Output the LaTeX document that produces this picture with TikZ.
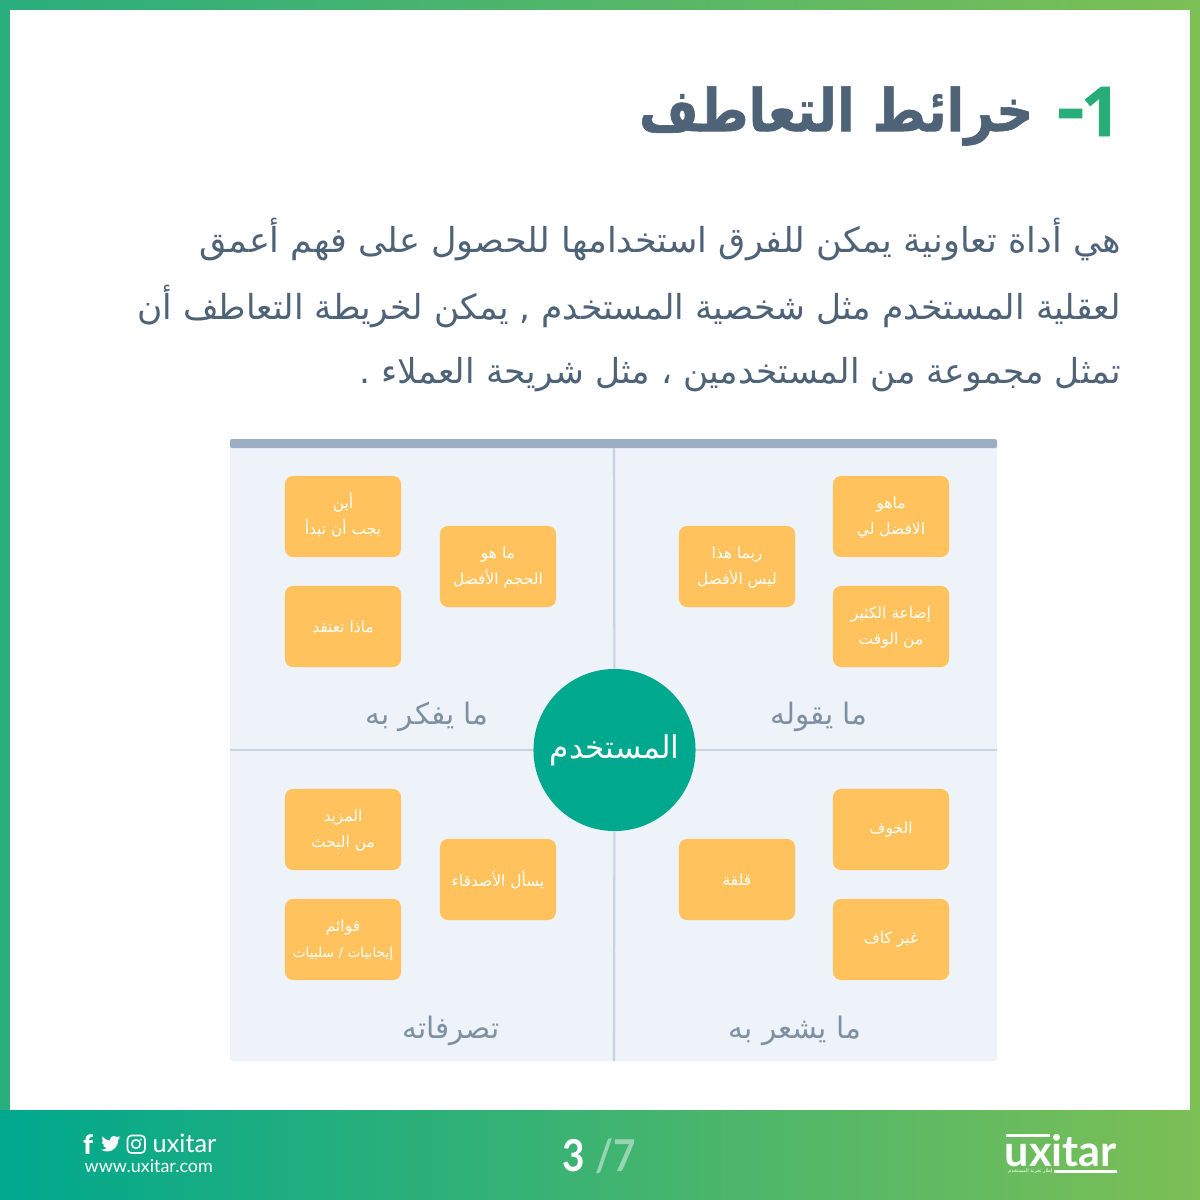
\documentclass[tikz,border=0pt]{standalone}
\usepackage{fontspec}
\setmainfont{Lato}
\newfontfamily\arabicfont[Script=Arabic]{DejaVu Sans}
\newfontface\headface[Script=Arabic, FakeBold=1]{DejaVu Sans Bold}
\newfontface\heavyface[FakeBold=1.5]{Lato Bold}
\newfontface\numface[FakeBold=1]{Open Sans Bold}
\TeXXeTstate=1
\usetikzlibrary{calc}
\definecolor{UXteal}{RGB}{0,168,142}
\definecolor{UXgreen}{RGB}{124,191,85}
\definecolor{UXedge}{RGB}{42,174,125}
\definecolor{UXnum}{RGB}{39,174,120}
\definecolor{UXtitle}{RGB}{78,99,120}
\definecolor{UXbar}{RGB}{155,174,194}
\definecolor{UXpanel}{RGB}{238,242,249}
\definecolor{UXline}{RGB}{197,210,224}
\definecolor{UXcard}{RGB}{255,194,92}
\definecolor{UXlabel}{RGB}{127,144,163}
\newcommand{\artext}[1]{\arabicfont\beginR #1\endR}
\newcommand{\card}[3]{\node[cardbox] (#1) at (#2) {#3};}
\newcommand{\cardtwo}[4]{\node[cardbox] (#1) at (#2) {\raisebox{.04cm}{\begin{tabular}{@{}c@{}}#3\\#4\end{tabular}}};}
\tikzset{cardbox/.style={rectangle, rounded corners=.08cm, minimum width=1.16cm, minimum height=.81cm, inner sep=0pt, fill=UXcard, text=white, font=\fontsize{4.4}{7.4}\selectfont\arabicfont}}
\tikzset{bodyline/.style={anchor=east, inner sep=0pt, text=UXtitle, font=\fontsize{9.8}{10}\selectfont}}
\tikzset{quadlabel/.style={inner sep=0pt, text=UXlabel, font=\fontsize{8.4}{10}\selectfont}}
\tikzset{quadrule/.style={color=UXline, line width=.6pt}}
\begin{document}
\begin{tikzpicture}[x=.01cm, y=-.01cm]
  \useasboundingbox (0,0) rectangle (1200,1200);

  % --- frame and footer ---
  \shade[left color=UXedge, right color=UXgreen] (0,0) rectangle (1200,1110);
  \fill[white] (10,10) rectangle (1190,1110);
  \shade[left color=UXteal, right color=UXgreen] (0,1110) rectangle (1200,1200);

  % --- heading ---
  \node[anchor=base east, inner sep=0pt, text=UXnum, font=\fontsize{19.5}{20}\numface] (num) at (1121,136) {\makebox[.2cm][r]{1}};
  \node[anchor=base east, inner sep=0pt, text=UXnum, font=\fontsize{24}{20}\heavyface] (dash) at (1083.5,139) {\makebox[.24cm][c]{-}};
  \node[anchor=east, inner sep=0pt, text=UXtitle, font=\fontsize{14.6}{20}\headface] (title) at (1034,116) {\scalebox{1}[1.15]{\beginR خرائط التعاطف\endR}};

  % --- body text ---
  \node[bodyline] (bodya) at (1121.5,240) {\scalebox{1.018}[1]{\artext{هي أداة تعاونية يمكن للفرق استخدامها للحصول على فهم أعمق}}};
  \node[bodyline] (bodyb) at (1121.5,306) {\artext{لعقلية المستخدم مثل شخصية المستخدم , يمكن لخريطة التعاطف أن}};
  \node[bodyline] (bodyc) at (1121.5,375) {\artext{تمثل مجموعة من المستخدمين ، مثل شريحة العملاء .}};

  % --- map panel ---
  \fill[UXpanel, rounded corners=.03cm] (230,440) rectangle (997,1061);
  \fill[UXbar, rounded corners=.02cm] (230,439) rectangle (997,448);

  \coordinate (top) at (614,448);
  \coordinate (bottom) at (614,1061);
  \coordinate (left) at (230,750);
  \coordinate (right) at (997,750);
  \node[circle, minimum size=1.62cm, inner sep=0pt, fill=UXteal, text=white, font=\fontsize{8.9}{10}\selectfont] (user) at (614.5,750) {\raisebox{-.03cm}{\artext{المستخدم}}};
  \draw[quadrule] (top) -- (user);
  \draw[quadrule] (bottom) -- (user);
  \draw[quadrule] (left) -- (user);
  \draw[quadrule] (right) -- (user);

  % --- quadrant titles ---
  \node[quadlabel] (thinks) at (427,717) {\artext{ما يفكر به}};
  \node[quadlabel] (says) at (819,717) {\artext{ما يقوله}};
  \node[quadlabel] (does) at (451,1031) {\artext{تصرفاته}};
  \node[quadlabel] (feels) at (795,1031) {\artext{ما يشعر به}};

  % --- top left ---
  \cardtwo{where}{343,516.5}{\beginR أين\endR}{\beginR يجب أن تبدأ\endR}
  \cardtwo{size}{498,566.5}{\beginR ما هو\endR}{\beginR الحجم الأفضل\endR}
  \card{think}{343,626.5}{\beginR ماذا تعتقد\endR}

  % --- top right ---
  \cardtwo{best}{891,516.5}{\beginR ماهو\endR}{\beginR الافضل لي\endR}
  \cardtwo{maybe}{737,566.5}{\beginR ربما هذا\endR}{\beginR ليس الأفضل\endR}
  \cardtwo{waste}{891,626.5}{\beginR إضاعة الكثير\endR}{\beginR من الوقت\endR}

  % --- bottom left ---
  \cardtwo{more}{343,829.5}{\beginR المزيد\endR}{\beginR من البحث\endR}
  \card{friends}{498,879.5}{\beginR يسأل الأصدقاء\endR}
  \cardtwo{lists}{343,939.5}{\beginR قوائم\endR}{\fontsize{3.9}{7.4}\selectfont\beginR إيجابيات / سلبيات\endR}

  % --- bottom right ---
  \card{fear}{891,829.5}{\beginR الخوف\endR}
  \card{worry}{737,879.5}{\beginR قلقة\endR}
  \card{short}{891,939.5}{\beginR غير كاف\endR}

  % --- footer left ---
  \node[inner sep=0pt, text=white, font=\fontsize{7.4}{8}\heavyface] (fb) at (88,1144) {f};
  \begin{scope}[shift={(101,1134)}, x=.008cm, y=-.008cm]
    \fill[white] (23.95,4.57) -- (21.13,5.35) .. controls (22.1,4.8) and (22.9,3.8) .. (23.29,2.62)
      .. controls (22.34,3.18) and (21.28,3.58) .. (20.16,3.8) .. controls (19.2,2.8) and (17.6,2.3) .. (16.1,2.4)
      .. controls (13.4,2.5) and (11.2,4.7) .. (11.2,7.3) .. controls (11.2,7.65) and (11.3,8) .. (11.78,8.28)
      .. controls (7.69,8.1) and (4.07,6.13) .. (1.64,3.16) .. controls (1.2,3.9) and (.97,4.75) .. (.97,5.64)
      .. controls (.97,7.35) and (1.84,8.85) .. (3.16,9.73) .. controls (2.35,9.7) and (1.6,9.5) .. (.93,9.12)
      .. controls (.93,11.55) and (2.6,13.55) .. (4.88,14) .. controls (4.15,14.2) and (3.4,14.2) .. (2.67,14.09)
      .. controls (3.3,16.05) and (5.1,17.45) .. (7.27,17.5) .. controls (5.6,18.8) and (3.5,19.6) .. (1.17,19.6)
      .. controls (.78,19.6) and (.39,19.58) .. (0,19.54) .. controls (2.18,20.95) and (4.77,21.75) .. (7.56,21.75)
      .. controls (16.6,21.75) and (21.55,14.25) .. (21.55,7.77) .. controls (21.55,7.56) and (21.55,7.35) .. (21.54,7.14)
      .. controls (22.5,6.45) and (23.35,5.58) .. (24,4.59) -- cycle;
  \end{scope}
  \draw[white, line width=.45pt, rounded corners=.04cm] (127.5,1135.5) rectangle (145,1153);
  \draw[white, line width=.45pt] (136,1144) circle (4.3);
  \fill[white] (141,1139.5) circle (1.1);
  \node[anchor=west, inner sep=0pt, text=white, font=\fontsize{7.2}{8}\selectfont] (brand) at (152,1143) {uxitar};
  \node[anchor=west, inner sep=0pt, text=white, font=\fontsize{5.1}{8}\selectfont] (site) at (84,1166) {www.uxitar.com};

  % --- page number ---
  \node[anchor=base east, inner sep=0pt, text=white, font=\fontsize{12.5}{12}\bfseries\selectfont] (page) at (586,1171) {\scalebox{.88}[1]{3}};
  \node[anchor=base west, inner sep=0pt, text=white, opacity=.45, font=\fontsize{12.5}{12}\bfseries\selectfont] (pages) at (595,1171) {\scalebox{.88}[1]{/7}};

  % --- footer logo ---
  \node[anchor=base west, inner sep=0pt, text=white, font=\fontsize{12.3}{12}\bfseries\selectfont] (logo) at (1004,1166) {uxitar};
  \fill[white] (1006,1134) rectangle (1050,1137);
  \fill[white] (1054,1169.5) rectangle (1117,1172.5);
  \node[anchor=east, inner sep=0pt, text=white, font=\fontsize{1.4}{2}\selectfont] (slogan) at (1053,1171) {\artext{إطار تجربة المستخدم}};
\end{tikzpicture}
\end{document}
